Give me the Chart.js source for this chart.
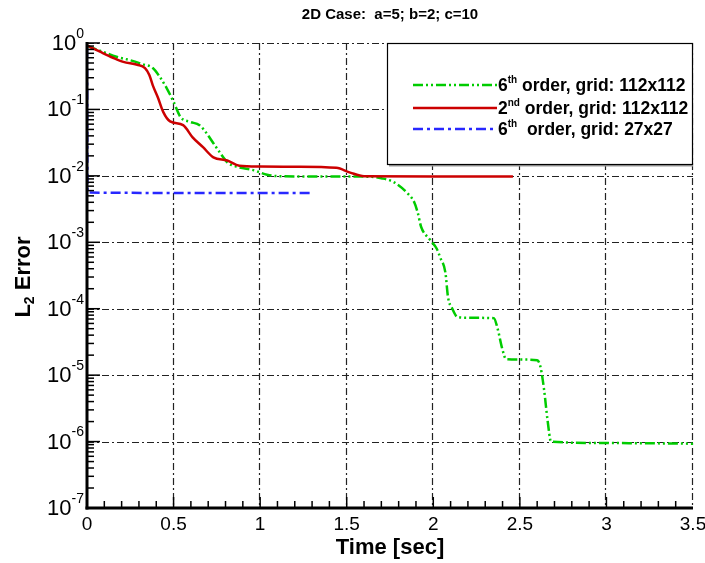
<!DOCTYPE html>
<html>
<head>
<meta charset="utf-8">
<script src="https://cdn.jsdelivr.net/npm/chart.js@4.4.0/dist/chart.umd.min.js"></script>
<style>
body { margin: 0; background: #fff; }
canvas { display: block; }
</style>
</head>
<body>
<canvas id="errChart" width="705" height="563"></canvas>
<script>
const FONT = "'Liberation Sans', Arial, sans-serif";

// 6th order, grid 112x112
const greenTime = [0, 0.09, 0.17, 0.25, 0.32, 0.38, 0.42, 0.46, 0.5, 0.54, 0.595, 0.65, 0.69, 0.73, 0.77, 0.81, 0.87, 0.96, 1.04, 1.1, 1.3, 1.5, 1.63, 1.7, 1.77, 1.85, 1.89, 1.91, 1.93, 1.98, 2.02, 2.04, 2.07, 2.085, 2.11, 2.14, 2.2, 2.35, 2.37, 2.4, 2.42, 2.5, 2.6, 2.62, 2.64, 2.66, 2.68, 3.0, 3.5];
const greenErr = [0.9, 0.74, 0.62, 0.55, 0.48, 0.42, 0.31, 0.21, 0.13, 0.077, 0.065, 0.058, 0.044, 0.031, 0.022, 0.016, 0.0136, 0.0122, 0.0104, 0.0099, 0.0098, 0.0098, 0.0097, 0.0092, 0.0081, 0.0055, 0.004, 0.0028, 0.0017, 0.0011, 0.0008, 0.00059, 0.00035, 0.00015, 0.0001, 0.000075, 0.000073, 0.000072, 0.000052, 0.000024, 0.0000175, 0.0000172, 0.0000168, 0.000013, 0.000006, 0.0000021, 0.000001, 0.00000095, 0.00000093];

// 2nd order, grid 112x112
const redTime = [0, 0.075, 0.15, 0.21, 0.29, 0.335, 0.36, 0.38, 0.41, 0.44, 0.48, 0.555, 0.61, 0.67, 0.73, 0.81, 0.88, 1.0, 1.2, 1.44, 1.52, 1.6, 2.0, 2.46];
const redErr = [0.92, 0.74, 0.6, 0.52, 0.47, 0.42, 0.33, 0.23, 0.15, 0.092, 0.066, 0.058, 0.038, 0.027, 0.019, 0.017, 0.0142, 0.0138, 0.0137, 0.0132, 0.0112, 0.0099, 0.0098, 0.0098];

// 6th order, grid 27x27
const blueTime = [0, 0.003, 1.29];
const blueErr = [0.85, 0.0056, 0.0055];

const xTicks = [0, 0.5, 1, 1.5, 2, 2.5, 3, 3.5];
const yExponents = [0, -1, -2, -3, -4, -5, -6, -7];

const legendRows = [
    {num: '6', sup: 'th', rest: ' order, grid: 112x112', color: 'rgb(0,204,0)', dash: [10, 3, 2, 3, 2, 3]},
    {num: '2', sup: 'nd', rest: ' order, grid: 112x112', color: 'rgb(204,0,0)', dash: []},
    {num: '6', sup: 'th', rest: '  order, grid: 27x27', color: 'rgb(40,40,255)', dash: [10, 4, 3, 4]},
];

function toPoints(xs, ys) {
    return xs.map((t, i) => ({x: t, y: ys[i]}));
}

function line(ctx, x1, y1, x2, y2) {
    ctx.beginPath();
    ctx.moveTo(x1, y1);
    ctx.lineTo(x2, y2);
    ctx.stroke();
}

const framePlugin = {
    id: 'frame',
    beforeDatasetsDraw(chart) {
        const {ctx, chartArea: a, scales: {x, y}} = chart;
        ctx.save();
        ctx.strokeStyle = '#222';
        ctx.lineWidth = 1.2;
        ctx.setLineDash([7, 3, 2, 3]);
        xTicks.forEach(v => {
            if (v === 0) return;
            const px = Math.round(x.getPixelForValue(v)) - 0.5;
            line(ctx, px, a.top, px, a.bottom);
        });
        yExponents.forEach(e => {
            if (e === -7) return;
            const py = Math.round(y.getPixelForValue(Math.pow(10, e))) + 0.5;
            line(ctx, a.left, py, a.right, py);
        });
        ctx.restore();
    },
    afterDatasetsDraw(chart) {
        const {ctx, chartArea: a, scales: {x, y}} = chart;
        ctx.save();
        ctx.strokeStyle = '#000';
        ctx.fillStyle = '#000';

        // axis lines
        ctx.lineWidth = 3;
        line(ctx, a.left, a.top - 1, a.left, a.bottom + 1.5);
        line(ctx, a.left - 1.5, a.bottom, a.right, a.bottom);

        // inside ticks
        ctx.lineWidth = 1.5;
        for (let e = -7; e <= 0; e++) {
            const py = y.getPixelForValue(Math.pow(10, e));
            line(ctx, a.left, py, a.left + 13, py);
            if (e === 0) continue;
            for (let m = 2; m <= 9; m++) {
                const pm = y.getPixelForValue(m * Math.pow(10, e));
                line(ctx, a.left, pm, a.left + 7, pm);
            }
        }
        for (let i = 1; i < 35; i++) {
            const px = x.getPixelForValue(i / 10);
            line(ctx, px, a.bottom, px, a.bottom - (i % 5 === 0 ? 11 : 7));
        }

        // y tick labels 10^n
        yExponents.forEach(e => {
            const py = y.getPixelForValue(Math.pow(10, e));
            const expText = String(e);
            ctx.textBaseline = 'middle';
            ctx.font = '14px ' + FONT;
            const we = ctx.measureText(expText).width;
            ctx.font = '22px ' + FONT;
            ctx.textAlign = 'right';
            ctx.fillText('10', 84 - we, py + 1);
            ctx.font = '14px ' + FONT;
            ctx.textAlign = 'left';
            ctx.fillText(expText, 84 - we, py - 9);
        });

        // y title: L2 Error
        ctx.translate(24, 277);
        ctx.rotate(-Math.PI / 2);
        ctx.textAlign = 'left';
        ctx.textBaseline = 'middle';
        ctx.font = 'bold 22px ' + FONT;
        const wL = ctx.measureText('L').width;
        const wErr = ctx.measureText(' Error').width;
        ctx.font = 'bold 14px ' + FONT;
        const w2 = ctx.measureText('2').width;
        let sx = -(wL + w2 + wErr) / 2;
        ctx.font = 'bold 22px ' + FONT;
        ctx.fillText('L', sx, 0);
        ctx.font = 'bold 14px ' + FONT;
        ctx.fillText('2', sx + wL, 6);
        ctx.font = 'bold 22px ' + FONT;
        ctx.fillText(' Error', sx + wL + w2, 0);
        ctx.restore();

        // legend box
        ctx.save();
        const lx = 387, ly = a.top, lw = a.right - 387, lh = 121;
        ctx.fillStyle = '#fff';
        ctx.fillRect(lx, ly, lw, lh);
        ctx.strokeStyle = '#999';
        ctx.lineWidth = 2;
        line(ctx, lx + 2, ly + lh + 1.5, lx + lw, ly + lh + 1.5);
        ctx.strokeStyle = '#000';
        ctx.lineWidth = 1.2;
        ctx.strokeRect(lx + 0.5, ly + 0.5, lw - 1, lh);
        const rowY = [85, 108, 129];
        legendRows.forEach((r, i) => {
            const ry = rowY[i];
            ctx.strokeStyle = r.color;
            ctx.lineWidth = 2.5;
            ctx.setLineDash(r.dash);
            line(ctx, 413, ry, 497, ry);
            ctx.setLineDash([]);
            ctx.fillStyle = '#000';
            ctx.textAlign = 'left';
            ctx.textBaseline = 'middle';
            ctx.font = 'bold 17.5px ' + FONT;
            let tx = 498;
            ctx.fillText(r.num, tx, ry + 1);
            tx += ctx.measureText(r.num).width;
            ctx.font = 'bold 10px ' + FONT;
            ctx.fillText(r.sup, tx, ry - 5);
            tx += ctx.measureText(r.sup).width;
            ctx.font = 'bold 17.5px ' + FONT;
            ctx.fillText(r.rest, tx, ry + 1);
        });
        ctx.restore();
    }
};

const data = {
    datasets: [{
        label: '2nd order, grid: 112x112',
        data: toPoints(redTime, redErr),
        borderColor: 'rgb(204,0,0)',
        borderWidth: 2.5,
        order: 0,
    }, {
        label: '6th order, grid: 112x112',
        data: toPoints(greenTime, greenErr),
        borderColor: 'rgb(0,204,0)',
        borderWidth: 2.5,
        borderDash: [10, 3, 2, 3, 2, 3],
        order: 1,
    }, {
        label: '6th order, grid: 27x27',
        data: toPoints(blueTime, blueErr),
        borderColor: 'rgb(40,40,255)',
        borderWidth: 2.5,
        borderDash: [10, 4, 3, 4],
        order: 2,
    }]
};

const config = {
    type: 'line',
    data: data,
    options: {
        responsive: false,
        animation: false,
        devicePixelRatio: 1,
        elements: {
            point: { radius: 0 },
            line: { cubicInterpolationMode: 'monotone', fill: false }
        },
        layout: {
            padding: { top: 0, right: 12, left: 0, bottom: 0 }
        },
        scales: {
            x: {
                type: 'linear',
                min: 0,
                max: 3.5,
                grid: { display: false, drawTicks: false },
                border: { display: false },
                afterBuildTicks: (scale) => {
                    scale.ticks = xTicks.map(v => ({value: v}));
                },
                afterFit: (scale) => {
                    scale.height = 55;
                    scale.paddingLeft = 0;
                    scale.paddingRight = 0;
                },
                ticks: {
                    autoSkip: false,
                    maxRotation: 0,
                    padding: 5,
                    color: '#000',
                    font: { family: FONT, size: 19 },
                    callback: (v) => String(v)
                },
                title: {
                    display: true,
                    text: 'Time [sec]',
                    color: '#000',
                    padding: { top: 0, bottom: 2 },
                    font: { family: FONT, size: 22, weight: 'bold' }
                }
            },
            y: {
                type: 'logarithmic',
                min: 1e-7,
                max: 1,
                grid: { display: false, drawTicks: false },
                border: { display: false },
                ticks: { display: false },
                afterFit: (scale) => { scale.width = 87; }
            }
        },
        plugins: {
            legend: { display: false },
            tooltip: { enabled: false },
            title: {
                display: true,
                fullSize: false,
                text: '2D Case:  a=5; b=2; c=10',
                color: '#000',
                padding: { top: 6, bottom: 19 },
                font: { family: FONT, size: 15, weight: 'bold' }
            }
        }
    },
    plugins: [framePlugin]
};

const errChart = new Chart(
    document.getElementById('errChart'),
    config
);
</script>
</body>
</html>
